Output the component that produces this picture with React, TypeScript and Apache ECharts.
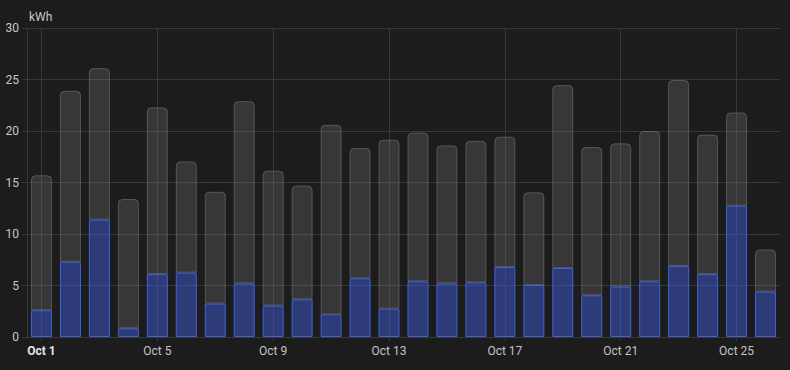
import React, { useEffect, useRef } from "react";
import * as echarts from "echarts";

const days: string[] = [
  "Oct 1", "Oct 2", "Oct 3", "Oct 4", "Oct 5", "Oct 6", "Oct 7", "Oct 8", "Oct 9",
  "Oct 10", "Oct 11", "Oct 12", "Oct 13", "Oct 14", "Oct 15", "Oct 16", "Oct 17",
  "Oct 18", "Oct 19", "Oct 20", "Oct 21", "Oct 22", "Oct 23", "Oct 24", "Oct 25", "Oct 26",
];

// lower (blue) part, kWh
const blueValues: number[] = [
  2.6, 7.3, 11.4, 0.85, 6.1, 6.25, 3.25, 5.2, 3.05, 3.65, 2.2, 5.7, 2.75,
  5.4, 5.2, 5.3, 6.8, 5.05, 6.7, 4.05, 4.9, 5.4, 6.9, 6.1, 12.75, 4.4,
];

// upper (gray) part stacked on top, kWh
const grayValues: number[] = [
  13.1, 16.6, 14.7, 12.55, 16.2, 10.8, 10.85, 17.7, 13.1, 11.05, 18.4, 12.65, 16.4,
  14.45, 13.4, 13.75, 12.65, 9.0, 17.75, 14.4, 13.9, 14.6, 18.05, 13.55, 9.05, 4.1,
];

const yTicks = { min: 0, max: 30, interval: 5 };
const gridDays: number[] = [0, 4, 8, 12, 16, 20, 24];

export default function App() {
  const ref = useRef<HTMLDivElement>(null);

  useEffect(() => {
    document.body.style.margin = "0";
    document.body.style.background = "#1c1c1c";
    if (!ref.current) return;
    const chart = echarts.init(ref.current, null, { renderer: "svg" });
    const gridColor = "#383838";
    chart.setOption({
      animation: false,
      backgroundColor: "#1c1c1c",
      textStyle: { fontFamily: "Roboto" },
      grid: { left: 27, right: 10, top: 28, bottom: 33, containLabel: false },
      xAxis: {
        type: "category",
        data: days,
        boundaryGap: true,
        axisLine: { show: true, lineStyle: { color: gridColor } },
        axisTick: { show: true, interval: 3, alignWithLabel: true, length: 4, lineStyle: { color: gridColor } },
        splitLine: { show: false },
        axisLabel: {
          interval: 3,
          margin: 8,
          color: "#c4c4c4",
          fontSize: 12,
          fontFamily: "Roboto",
          formatter: (v: string) => (v === "Oct 1" ? "{b|" + v + "}" : v),
          rich: {
            b: { fontWeight: "bold", color: "#e6e6e6", fontSize: 12, fontFamily: "Roboto" },
          },
        },
      },
      yAxis: {
        type: "value",
        min: yTicks.min,
        max: yTicks.max,
        interval: yTicks.interval,
        name: "kWh",
        nameLocation: "end",
        nameGap: 5,
        nameTextStyle: { color: "#c8c8c8", fontSize: 12, align: "left", padding: [0, 0, 0, 2], fontFamily: "Roboto" },
        axisLine: { show: true, lineStyle: { color: gridColor } },
        axisTick: { show: true, length: 5, lineStyle: { color: gridColor } },
        splitLine: { show: true, lineStyle: { color: gridColor } },
        axisLabel: { color: "#c8c8c8", fontSize: 12, margin: 8, fontFamily: "Roboto" },
      },
      series: [
        {
          type: "bar",
          name: "lower",
          stack: "total",
          data: blueValues,
          barWidth: 21,
          itemStyle: {
            color: "rgba(62, 92, 214, 0.5)",
            borderColor: "#4062d6",
            borderWidth: 1,
          },
          markLine: {
            silent: true,
            symbol: "none",
            label: { show: false },
            lineStyle: { color: gridColor, type: "solid", width: 1 },
            data: gridDays.map((d) => ({ xAxis: d })),
            z: 1,
          },
        },
        {
          type: "bar",
          name: "upper",
          stack: "total",
          data: grayValues,
          barWidth: 21,
          itemStyle: {
            color: "rgba(120, 120, 120, 0.3)",
            borderColor: "rgba(140, 140, 140, 0.45)",
            borderWidth: 1,
            borderRadius: [4, 4, 0, 0],
          },
        },
      ],
    });
    return () => chart.dispose();
  }, []);

  return <div ref={ref} style={{ width: 790, height: 370, background: "#1c1c1c" }} />;
}
